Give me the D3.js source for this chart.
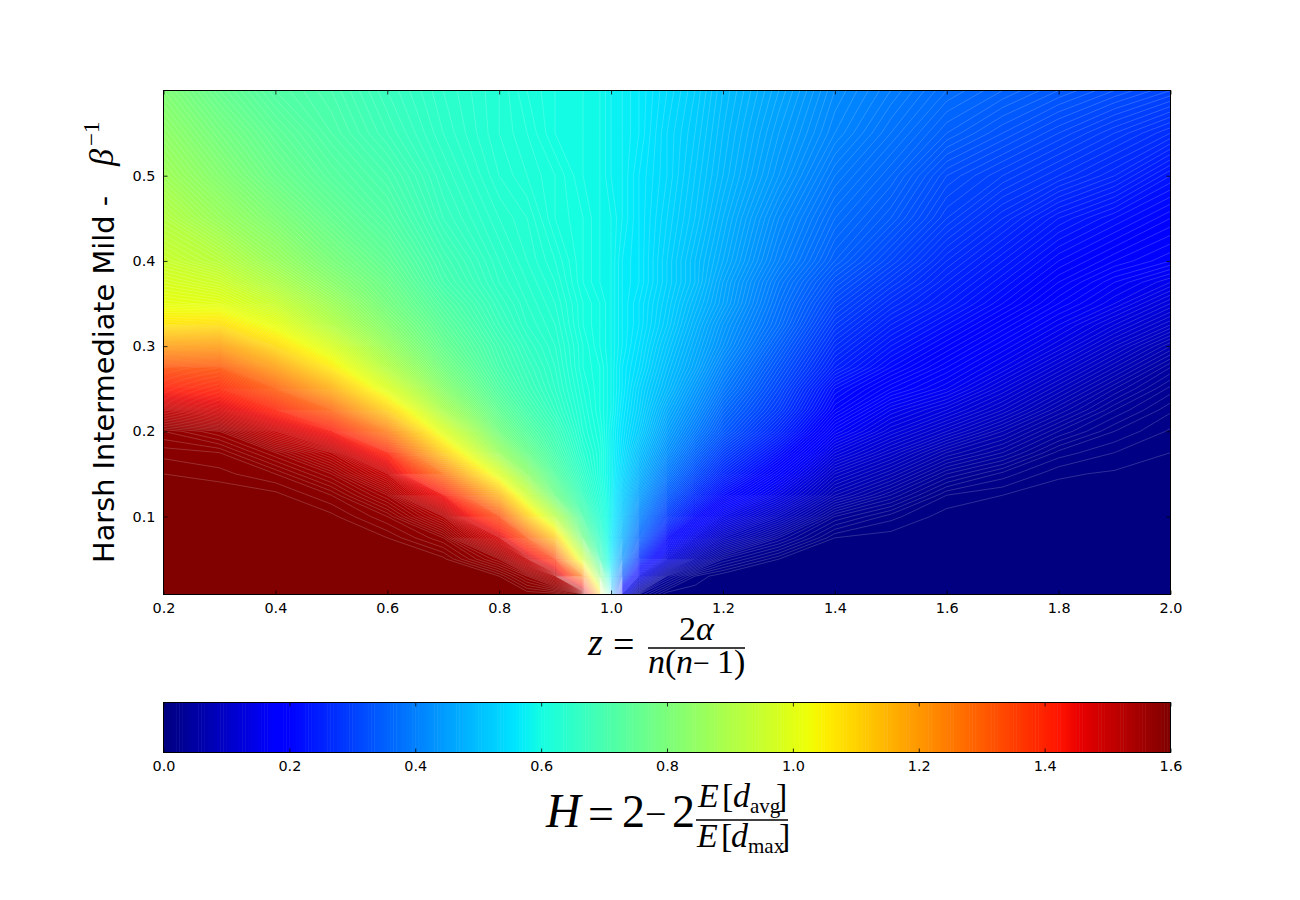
<!DOCTYPE html>
<html><head><meta charset="utf-8">
<script src="https://cdn.jsdelivr.net/npm/d3@7"></script>
<style>
html,body{margin:0;background:#fff}
svg{display:block}
.tick text{font-family:"DejaVu Sans",sans-serif;font-size:14.4px;fill:#000}
.m{font-family:"Liberation Serif",serif;fill:#000}
.i{font-style:italic}
</style></head><body><svg id="c" width="1300" height="900"></svg>
<script>
// grid positions
const zColumns=[0.2,0.3,0.4,0.5,0.6,0.7,0.8,0.85,0.9,0.95,0.98,1.0,1.02,1.05,1.1,1.15,1.2,1.3,1.4,1.5,1.6,1.7,1.8,1.9,2.0];
const betaRows=[0.0085,0.03,0.05,0.075,0.1,0.125,0.15,0.175,0.2,0.225,0.25,0.275,0.3,0.325,0.35,0.375,0.4,0.45,0.5,0.55,0.6];
// H values read per z column, bottom (small beta^-1) to top
const hZ020=[1.6,1.6,1.6,1.6,1.6,1.6,1.595,1.588,1.575,1.51,1.42,1.33,1.2,1.07,1.01,.98,.95,.91,.87,.84,.81];
const hZ030=[1.6,1.6,1.6,1.6,1.6,1.6,1.592,1.585,1.56,1.48,1.4,1.32,1.2,1.08,1.0,.96,.92,.86,.82,.79,.76];
const hZ040=[1.6,1.6,1.6,1.6,1.6,1.597,1.585,1.56,1.5,1.41,1.31,1.2,1.09,1.01,.95,.9,.86,.81,.77,.745,.72];
const hZ050=[1.6,1.6,1.6,1.6,1.597,1.585,1.56,1.52,1.43,1.3,1.17,1.06,.98,.91,.87,.83,.8,.76,.73,.71,.7];
const hZ060=[1.6,1.6,1.6,1.595,1.58,1.55,1.5,1.41,1.26,1.11,.99,.91,.86,.82,.79,.77,.75,.72,.7,.68,.67];
const hZ070=[1.6,1.6,1.597,1.575,1.53,1.44,1.28,1.12,.99,.89,.83,.79,.76,.74,.72,.7,.69,.67,.66,.65,.645];
const hZ080=[1.6,1.595,1.56,1.48,1.34,1.16,.99,.86,.79,.75,.72,.7,.69,.675,.665,.655,.65,.64,.63,.625,.625];
const hZ085=[1.6,1.57,1.5,1.32,1.12,.96,.84,.77,.73,.7,.68,.67,.66,.65,.645,.64,.635,.63,.62,.615,.61];
const hZ090=[1.6,1.53,1.36,1.12,.92,.78,.73,.7,.68,.66,.65,.645,.64,.635,.63,.625,.62,.61,.61,.6,.6];
const hZ095=[1.58,1.24,.96,.78,.71,.67,.65,.635,.625,.62,.615,.61,.61,.605,.605,.6,.6,.6,.595,.595,.595];
const hZ098=[1.1,.82,.69,.65,.63,.62,.61,.61,.605,.6,.6,.6,.595,.595,.595,.59,.59,.59,.59,.59,.59];
const hZ100=[.5,.55,.57,.57,.58,.58,.58,.58,.58,.585,.585,.585,.585,.585,.585,.585,.585,.585,.58,.58,.58];
const hZ102=[.15,.33,.43,.48,.51,.525,.54,.55,.555,.56,.565,.565,.57,.57,.57,.57,.57,.575,.575,.575,.575];
const hZ105=[.03,.15,.27,.36,.41,.45,.48,.5,.52,.53,.535,.545,.55,.555,.555,.56,.56,.56,.56,.565,.565];
const hZ110=[0,.04,.13,.21,.29,.345,.39,.425,.45,.47,.49,.5,.51,.52,.525,.53,.53,.535,.54,.54,.545];
const hZ115=[0,.01,.07,.14,.21,.27,.32,.36,.395,.42,.44,.46,.47,.48,.49,.5,.5,.51,.515,.52,.525];
const hZ120=[0,0,.03,.09,.15,.21,.26,.3,.34,.365,.39,.41,.43,.44,.455,.46,.47,.48,.49,.495,.5];
const hZ130=[0,0,.005,.04,.09,.14,.18,.22,.26,.29,.31,.33,.35,.37,.38,.39,.405,.42,.44,.45,.46];
const hZ140=[0,0,0,.005,.03,.07,.1,.135,.17,.2,.22,.25,.27,.29,.31,.33,.35,.37,.39,.41,.42];
const hZ150=[0,0,0,.002,.012,.04,.07,.1,.13,.155,.185,.21,.23,.25,.27,.29,.31,.34,.36,.38,.395];
const hZ160=[0,0,0,0,.002,.01,.035,.065,.1,.13,.16,.18,.2,.22,.24,.255,.27,.3,.32,.35,.37];
const hZ170=[0,0,0,0,.001,.005,.018,.045,.07,.1,.125,.15,.17,.19,.21,.225,.24,.27,.3,.33,.355];
const hZ180=[0,0,0,0,0,.002,.006,.018,.04,.065,.09,.115,.14,.16,.18,.195,.21,.24,.28,.31,.34];
const hZ190=[0,0,0,0,0,0,.004,.01,.02,.035,.055,.08,.105,.13,.155,.17,.19,.22,.26,.29,.325];
const hZ200=[0,0,0,0,0,0,.002,.005,.009,.016,.028,.045,.07,.1,.125,.15,.175,.2,.23,.27,.31];
const hColumns=[hZ020,hZ030,hZ040,hZ050,hZ060,hZ070,hZ080,hZ085,hZ090,hZ095,hZ098,hZ100,hZ102,hZ105,hZ110,hZ115,hZ120,hZ130,hZ140,hZ150,hZ160,hZ170,hZ180,hZ190,hZ200];
// axis ticks
const xTicks=[0.2,0.4,0.6,0.8,1.0,1.2,1.4,1.6,1.8,2.0];
const yTicks=[0.1,0.2,0.3,0.4,0.5];
const barTicks=[0,0.2,0.4,0.6,0.8,1.0,1.2,1.4,1.6];
// jet colour map
const jetPos=[0,.11,.125,.34,.35,.375,.64,.65,.66,.89,.91,1];
const jetCol=["#00007f","#0000ff","#0000ff","#00dbff","#00e6ff","#15ffe2","#eeff08","#f7f600","#ffec00","#ff1300","#e80000","#7f0000"];
const levelStep=0.005, levelMax=1.6;

const jet=d3.scaleLinear().domain(jetPos).range(jetCol).clamp(true);
const levels=d3.range(0,Math.round(levelMax/levelStep)).map(i=>i*levelStep);
const colorOf=t=>jet((t+levelStep/2)/levelMax);

const P={l:163.5,r:1170.5,t:90.5,b:594.5}, B={t:702.5,b:752.5};
const x=d3.scaleLinear().domain([0.2,2.0]).range([P.l,P.r]);
const y=d3.scaleLinear().domain([0.0085,0.6]).range([P.b,P.t]);
const bar=d3.scaleLinear().domain([0,1.6]).range([P.l,P.r]);
const svg=d3.select("#c");

const nx=zColumns.length, ny=betaRows.length, grid=[];
for(let j=0;j<ny;j++)for(let i=0;i<nx;i++)grid.push(hColumns[i][j]);
const ix=d3.scaleLinear().domain(d3.range(nx)).range(zColumns).clamp(true);
const iy=d3.scaleLinear().domain(d3.range(ny)).range(betaRows).clamp(true);
const proj=d3.geoTransform({point(a,b){this.stream.point(x(ix(a-.5)),y(iy(b-.5)));}});
const path=d3.geoPath(proj);
const contours=d3.contours().size([nx,ny]).thresholds(levels)(grid);

svg.append("clipPath").attr("id","plot").append("rect").attr("x",P.l).attr("y",P.t).attr("width",P.r-P.l).attr("height",P.b-P.t);
const gF=svg.append("g").attr("clip-path","url(#plot)");
gF.selectAll("path.f").data(contours).join("path").attr("class","f").attr("d",path).attr("fill",d=>colorOf(d.value)).attr("stroke","none");
gF.selectAll("path.l").data(contours.slice(1)).join("path").attr("class","l").attr("d",path).attr("fill","none").attr("stroke","#fff").attr("stroke-opacity",.3).attr("stroke-width",.6);

// colour bar
svg.append("g").selectAll("rect").data(levels).join("rect")
 .attr("x",d=>bar(d)).attr("width",d=>bar(d+levelStep)-bar(d)+.5).attr("y",B.t).attr("height",B.b-B.t).attr("fill",colorOf);

// frames & axes
function frame(t,b){svg.append("rect").attr("x",P.l).attr("y",t).attr("width",P.r-P.l).attr("height",b-t).attr("fill","none").attr("stroke","#000").attr("stroke-width",1);}
frame(P.t,P.b);frame(B.t,B.b);
function clean(g){g.select(".domain").remove();g.selectAll("line").attr("stroke","#000").attr("stroke-width",.8);}
const fmt=d3.format(".1f");
svg.append("g").attr("transform",`translate(0,${P.b})`).call(d3.axisBottom(x).tickValues(xTicks).tickSize(-4).tickPadding(8).tickFormat(fmt)).call(clean);
svg.append("g").attr("transform",`translate(0,${P.t})`).call(d3.axisTop(x).tickValues(xTicks).tickSize(-4).tickFormat("")).call(clean);
svg.append("g").attr("transform",`translate(${P.l},0)`).call(d3.axisLeft(y).tickValues(yTicks).tickSize(-4).tickPadding(8).tickFormat(fmt)).call(clean);
svg.append("g").attr("transform",`translate(${P.r},0)`).call(d3.axisRight(y).tickValues(yTicks).tickSize(-4).tickFormat("")).call(clean);
svg.append("g").attr("transform",`translate(0,${B.b})`).call(d3.axisBottom(bar).tickValues(barTicks).tickSize(-4).tickPadding(8).tickFormat(fmt)).call(clean);
svg.append("g").attr("transform",`translate(0,${B.t})`).call(d3.axisTop(bar).tickValues(barTicks).tickSize(-4).tickFormat("")).call(clean);

// labels
function t(s,px,py,size,opt={}){return svg.append("text").attr("class","m"+(opt.i?" i":"")).attr("x",px).attr("y",py).attr("font-size",size).attr("text-anchor",opt.a||"start").text(s);}
function rule(x0,x1,py,w){svg.append("line").attr("x1",x0).attr("x2",x1).attr("y1",py).attr("y2",py).attr("stroke","#000").attr("stroke-width",w);}
// x label
t("z",588,655,38,{i:1});t("=",613,657,38);
rule(648,745,648,1.6);
t("2",679,640,34);t("α",696,640,34,{i:1});
t("n",648,673,34,{i:1});t("(",665,673,34);t("n",676,673,34,{i:1});t("−",693,673,30);t("1",717,673,34);t(")",734,673,34);
// colour bar label
t("H",546,827,48,{i:1});t("=",588,829,46);t("2",622,827,46);t("−",645,827,38);t("2",672,827,46);
rule(696,788,820,1.6);
t("E",698,807,34,{i:1});t("[",722,807,34);t("d",733,807,34,{i:1});t("avg",750,813,21);t("]",776,807,34);
t("E",697,847,34,{i:1});t("[",721,847,34);t("d",731,847,34,{i:1});t("max",748,853,21);t("]",779,847,34);
// y label
svg.append("text").attr("transform","translate(114,563) rotate(-90)").attr("font-family","DejaVu Sans").attr("font-size",28.8).text("Harsh Intermediate Mild -");
svg.append("text").attr("class","m i").attr("transform","translate(113,166) rotate(-90)").attr("font-size",34).text("β");
svg.append("text").attr("class","m").attr("transform","translate(99,146) rotate(-90)").attr("font-size",23).text("−1");
</script></body></html>
